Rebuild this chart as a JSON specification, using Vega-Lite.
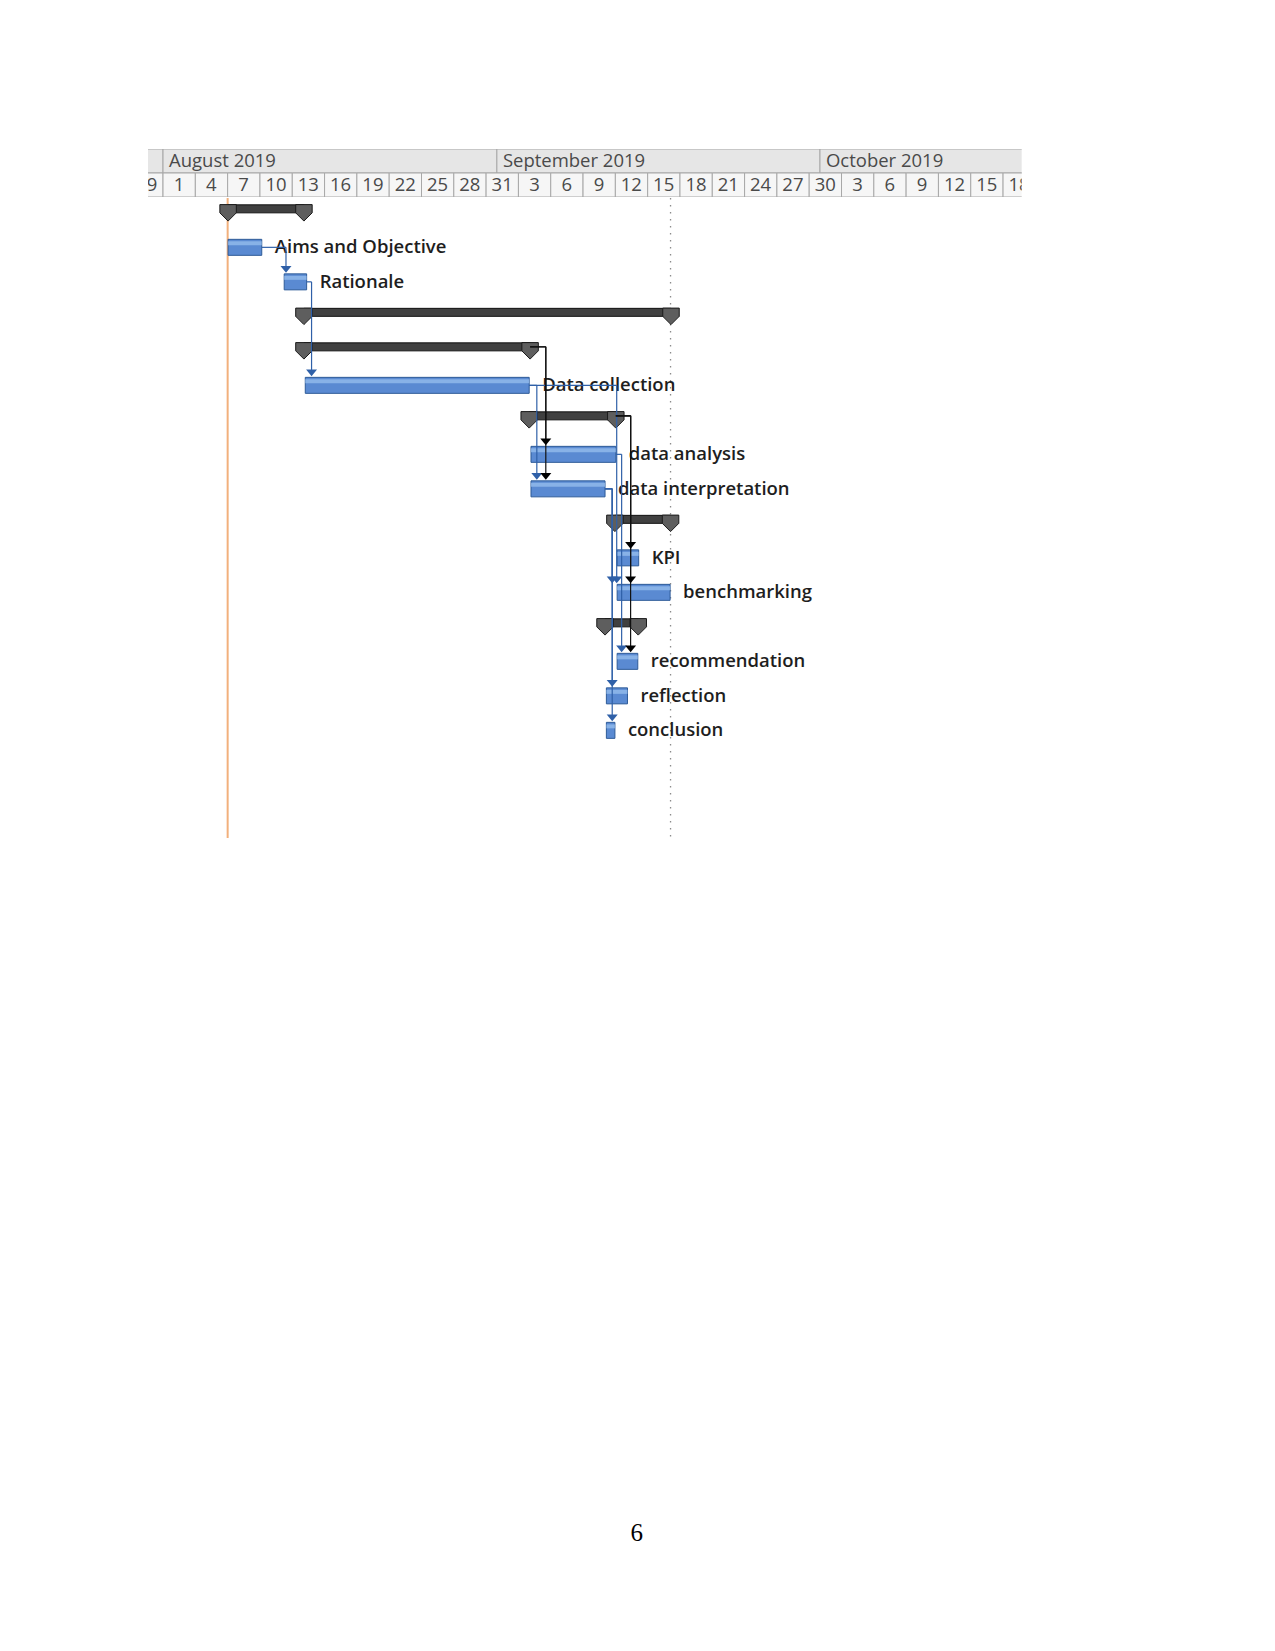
{
  "$schema": "https://vega.github.io/schema/vega-lite/v6.json",
  "background": "white",
  "padding": {"left": 148, "top": 149, "right": 0, "bottom": 0},
  "spacing": 0,
  "config": {"view": {"stroke": null}},
  "title": {"text": "6", "orient": "bottom", "anchor": "middle", "offset": 702, "dx": 52, "baseline": "alphabetic", "font": "Liberation Serif", "fontSize": 25, "fontWeight": "normal", "color": "#000000"},
  "datasets": {
    "months": [
      {"month": "July 2019", "start": "2019-07-01", "end": "2019-08-01"},
      {"month": "August 2019", "start": "2019-08-01", "end": "2019-09-01"},
      {"month": "September 2019", "start": "2019-09-01", "end": "2019-10-01"},
      {"month": "October 2019", "start": "2019-10-01", "end": "2019-11-01"}
    ],
    "days": [
      {"day": "29", "start": "2019-07-29", "end": "2019-08-01"},
      {"day": "1", "start": "2019-08-01", "end": "2019-08-04"},
      {"day": "4", "start": "2019-08-04", "end": "2019-08-07"},
      {"day": "7", "start": "2019-08-07", "end": "2019-08-10"},
      {"day": "10", "start": "2019-08-10", "end": "2019-08-13"},
      {"day": "13", "start": "2019-08-13", "end": "2019-08-16"},
      {"day": "16", "start": "2019-08-16", "end": "2019-08-19"},
      {"day": "19", "start": "2019-08-19", "end": "2019-08-22"},
      {"day": "22", "start": "2019-08-22", "end": "2019-08-25"},
      {"day": "25", "start": "2019-08-25", "end": "2019-08-28"},
      {"day": "28", "start": "2019-08-28", "end": "2019-08-31"},
      {"day": "31", "start": "2019-08-31", "end": "2019-09-03"},
      {"day": "3", "start": "2019-09-03", "end": "2019-09-06"},
      {"day": "6", "start": "2019-09-06", "end": "2019-09-09"},
      {"day": "9", "start": "2019-09-09", "end": "2019-09-12"},
      {"day": "12", "start": "2019-09-12", "end": "2019-09-15"},
      {"day": "15", "start": "2019-09-15", "end": "2019-09-18"},
      {"day": "18", "start": "2019-09-18", "end": "2019-09-21"},
      {"day": "21", "start": "2019-09-21", "end": "2019-09-24"},
      {"day": "24", "start": "2019-09-24", "end": "2019-09-27"},
      {"day": "27", "start": "2019-09-27", "end": "2019-09-30"},
      {"day": "30", "start": "2019-09-30", "end": "2019-10-03"},
      {"day": "3", "start": "2019-10-03", "end": "2019-10-06"},
      {"day": "6", "start": "2019-10-06", "end": "2019-10-09"},
      {"day": "9", "start": "2019-10-09", "end": "2019-10-12"},
      {"day": "12", "start": "2019-10-12", "end": "2019-10-15"},
      {"day": "15", "start": "2019-10-15", "end": "2019-10-18"},
      {"day": "18", "start": "2019-10-18", "end": "2019-10-21"}
    ],
    "tasks": [
      {"task": "Aims and Objective", "row": 1, "start": "2019-08-07T01:00:00Z", "end": "2019-08-10T04:00:00Z"},
      {"task": "Rationale", "row": 2, "start": "2019-08-12T06:00:00Z", "end": "2019-08-14T08:00:00Z"},
      {"task": "Data collection", "row": 5, "start": "2019-08-14T05:00:00Z", "end": "2019-09-04T00:00:00Z"},
      {"task": "data analysis", "row": 7, "start": "2019-09-04T04:00:00Z", "end": "2019-09-12T01:00:00Z"},
      {"task": "data interpretation", "row": 8, "start": "2019-09-04T04:00:00Z", "end": "2019-09-11T01:00:00Z"},
      {"task": "KPI", "row": 10, "start": "2019-09-12T04:00:00Z", "end": "2019-09-14T04:00:00Z"},
      {"task": "benchmarking", "row": 11, "start": "2019-09-12T04:00:00Z", "end": "2019-09-17T02:00:00Z"},
      {"task": "recommendation", "row": 13, "start": "2019-09-12T04:00:00Z", "end": "2019-09-14T02:00:00Z"},
      {"task": "reflection", "row": 14, "start": "2019-09-11T04:00:00Z", "end": "2019-09-13T03:00:00Z"},
      {"task": "conclusion", "row": 15, "start": "2019-09-11T04:00:00Z", "end": "2019-09-11T23:00:00Z"}
    ],
    "summaries": [
      {"row": 0, "start": "2019-08-07T01:00:00Z", "end": "2019-08-14T02:00:00Z"},
      {"row": 3, "start": "2019-08-14T02:00:00Z", "end": "2019-09-17T04:00:00Z"},
      {"row": 4, "start": "2019-08-14T02:00:00Z", "end": "2019-09-04T02:00:00Z"},
      {"row": 6, "start": "2019-09-04T00:00:00Z", "end": "2019-09-12T01:00:00Z"},
      {"row": 9, "start": "2019-09-11T23:00:00Z", "end": "2019-09-17T03:00:00Z"},
      {"row": 12, "start": "2019-09-11T01:00:00Z", "end": "2019-09-14T03:00:00Z"}
    ],
    "taskLinks": [
      {"from_row": 1, "from_end": "2019-08-10T04:00:00Z", "drop": "2019-08-12T10:00:00Z", "to_row": 2},
      {"from_row": 2, "from_end": "2019-08-14T08:00:00Z", "drop": "2019-08-14T19:00:00Z", "to_row": 5},
      {"from_row": 5, "from_end": "2019-09-04T00:00:00Z", "drop": "2019-09-04T17:00:00Z", "to_row": 8},
      {"from_row": 5, "from_end": "2019-09-04T00:00:00Z", "drop": "2019-09-12T03:00:00Z", "to_row": 11},
      {"from_row": 8, "from_end": "2019-09-11T01:00:00Z", "drop": "2019-09-11T17:00:00Z", "to_row": 11},
      {"from_row": 8, "from_end": "2019-09-11T01:00:00Z", "drop": "2019-09-11T17:00:00Z", "to_row": 14},
      {"from_row": 8, "from_end": "2019-09-11T01:00:00Z", "drop": "2019-09-11T17:00:00Z", "to_row": 15},
      {"from_row": 7, "from_end": "2019-09-12T01:00:00Z", "drop": "2019-09-12T14:00:00Z", "to_row": 13}
    ],
    "summaryLinks": [
      {"from_row": 4, "from_end": "2019-09-04T02:00:00Z", "drop": "2019-09-05T13:00:00Z", "to_row": 7},
      {"from_row": 4, "from_end": "2019-09-04T02:00:00Z", "drop": "2019-09-05T13:00:00Z", "to_row": 8},
      {"from_row": 6, "from_end": "2019-09-12T01:00:00Z", "drop": "2019-09-13T10:00:00Z", "to_row": 10},
      {"from_row": 6, "from_end": "2019-09-12T01:00:00Z", "drop": "2019-09-13T10:00:00Z", "to_row": 11},
      {"from_row": 6, "from_end": "2019-09-12T01:00:00Z", "drop": "2019-09-13T10:00:00Z", "to_row": 13}
    ],
    "markers": [
      {"marker": "current date", "date": "2019-08-07T00:00:00Z"},
      {"marker": "status date", "date": "2019-09-17T03:00:00Z"}
    ]
  },
  "vconcat": [
    {
      "width": 873.7,
      "height": 48,
      "layer": [
        {
          "data": {"name": "months"},
          "mark": {"type": "rect", "fill": "#e6e6e6", "stroke": "#a8a8a8", "strokeWidth": 1, "clip": true},
          "encoding": {
            "x": {"field": "start", "type": "temporal", "axis": null, "scale": {"type": "utc", "domain": [{"year": 2019, "month": 7, "date": 30, "hours": 14, "minutes": 30, "utc": true}, {"year": 2019, "month": 10, "date": 19, "hours": 17, "minutes": 30, "utc": true}]}},
            "x2": {"field": "end"},
            "y": {"datum": "month", "type": "nominal", "axis": null, "scale": {"domain": ["month", "day"], "paddingInner": 0, "paddingOuter": 0}}
          }
        },
        {
          "data": {"name": "days"},
          "mark": {"type": "rect", "fill": "#f6f6f6", "stroke": "#a8a8a8", "strokeWidth": 1, "clip": true},
          "encoding": {
            "x": {"field": "start", "type": "temporal"},
            "x2": {"field": "end"},
            "y": {"datum": "day", "type": "nominal"}
          }
        },
        {
          "data": {"name": "months"},
          "transform": [{"filter": "datum.month != 'July 2019'"}],
          "mark": {"type": "text", "align": "left", "baseline": "middle", "dx": 6, "font": "Open Sans", "fontSize": 18.5, "fill": "#4a4a4a", "clip": true},
          "encoding": {
            "x": {"field": "start", "type": "temporal"},
            "y": {"datum": "month", "type": "nominal"},
            "text": {"field": "month"}
          }
        },
        {
          "data": {"name": "days"},
          "mark": {"type": "text", "align": "center", "baseline": "middle", "dx": 16, "font": "Open Sans", "fontSize": 18.5, "fill": "#4a4a4a", "clip": true},
          "encoding": {
            "x": {"field": "start", "type": "temporal"},
            "y": {"datum": "day", "type": "nominal"},
            "text": {"field": "day"}
          }
        }
      ]
    },
    {
      "width": 873.7,
      "height": 640,
      "layer": [
        {
          "data": {"name": "markers"},
          "transform": [{"filter": "datum.marker == 'current date'"}],
          "mark": {"type": "rule", "color": "#f2b07c", "strokeWidth": 2},
          "encoding": {"x": {"field": "date", "type": "temporal", "axis": null, "scale": {"type": "utc", "domain": [{"year": 2019, "month": 7, "date": 30, "hours": 14, "minutes": 30, "utc": true}, {"year": 2019, "month": 10, "date": 19, "hours": 17, "minutes": 30, "utc": true}]}}}
        },
        {
          "data": {"name": "markers"},
          "transform": [{"filter": "datum.marker == 'status date'"}],
          "mark": {"type": "rule", "color": "#8c8c8c", "strokeWidth": 1.3, "strokeDash": [1.5, 5.5]},
          "encoding": {"x": {"field": "date", "type": "temporal"}}
        },
        {
          "data": {"name": "summaries"},
          "mark": {"type": "bar", "orient": "horizontal", "size": 8, "yOffset": -4, "fill": "#404040", "stroke": "#111111", "strokeWidth": 1},
          "encoding": {
            "x": {"field": "start", "type": "temporal"},
            "x2": {"field": "end"},
            "y": {"field": "row", "type": "quantitative", "axis": null, "scale": {"domain": [-0.43, 18.12], "reverse": true, "nice": false, "zero": false, "padding": 0}}
          }
        },
        {
          "data": {"name": "summaries"},
          "mark": {"type": "point", "shape": "M-1,-1L1,-1L1,0L0,1L-1,0Z", "size": 272, "filled": true, "fill": "#5e5e5e", "stroke": "#1a1a1a", "strokeWidth": 1, "opacity": 1},
          "encoding": {
            "x": {"field": "start", "type": "temporal"},
            "y": {"field": "row", "type": "quantitative"}
          }
        },
        {
          "data": {"name": "summaries"},
          "mark": {"type": "point", "shape": "M-1,-1L1,-1L1,0L0,1L-1,0Z", "size": 272, "filled": true, "fill": "#5e5e5e", "stroke": "#1a1a1a", "strokeWidth": 1, "opacity": 1},
          "encoding": {
            "x": {"field": "end", "type": "temporal"},
            "y": {"field": "row", "type": "quantitative"}
          }
        },
        {
          "data": {"name": "tasks"},
          "mark": {"type": "bar", "orient": "horizontal", "size": 16, "fill": "#5a8ad2", "stroke": "#2d5a98", "strokeWidth": 1},
          "encoding": {
            "x": {"field": "start", "type": "temporal"},
            "x2": {"field": "end"},
            "y": {"field": "row", "type": "quantitative"}
          }
        },
        {
          "data": {"name": "tasks"},
          "mark": {"type": "bar", "orient": "horizontal", "size": 4, "yOffset": -4, "fill": "#93bbec", "opacity": 0.8},
          "encoding": {
            "x": {"field": "start", "type": "temporal"},
            "x2": {"field": "end"},
            "y": {"field": "row", "type": "quantitative"}
          }
        },
        {
          "data": {"name": "tasks"},
          "mark": {"type": "text", "align": "left", "baseline": "middle", "dx": 13, "font": "Open Sans", "fontWeight": 600, "fontSize": 18.5, "fill": "#1e1e1e"},
          "encoding": {
            "x": {"field": "end", "type": "temporal"},
            "y": {"field": "row", "type": "quantitative"},
            "text": {"field": "task"}
          }
        },
        {
          "data": {"name": "taskLinks"},
          "mark": {"type": "rule", "color": "#2f60a8", "strokeWidth": 1.2},
          "encoding": {
            "x": {"field": "from_end", "type": "temporal"},
            "x2": {"field": "drop"},
            "y": {"field": "from_row", "type": "quantitative"}
          }
        },
        {
          "data": {"name": "taskLinks"},
          "mark": {"type": "rule", "color": "#2f60a8", "strokeWidth": 1.2, "y2Offset": -12},
          "encoding": {
            "x": {"field": "drop", "type": "temporal"},
            "y": {"field": "from_row", "type": "quantitative"},
            "y2": {"field": "to_row"}
          }
        },
        {
          "data": {"name": "summaryLinks"},
          "mark": {"type": "rule", "color": "#111111", "strokeWidth": 1.2, "yOffset": -4},
          "encoding": {
            "x": {"field": "from_end", "type": "temporal"},
            "x2": {"field": "drop"},
            "y": {"field": "from_row", "type": "quantitative"}
          }
        },
        {
          "data": {"name": "summaryLinks"},
          "mark": {"type": "rule", "color": "#111111", "strokeWidth": 1.2, "yOffset": -4, "y2Offset": -12},
          "encoding": {
            "x": {"field": "drop", "type": "temporal"},
            "y": {"field": "from_row", "type": "quantitative"},
            "y2": {"field": "to_row"}
          }
        },
        {
          "data": {"name": "taskLinks"},
          "mark": {"type": "point", "shape": "M-1,-0.6L1,-0.6L0,0.6Z", "size": 121, "filled": true, "fill": "#2f60a8", "strokeWidth": 0, "opacity": 1, "yOffset": -12.5},
          "encoding": {
            "x": {"field": "drop", "type": "temporal"},
            "y": {"field": "to_row", "type": "quantitative"}
          }
        },
        {
          "data": {"name": "summaryLinks"},
          "mark": {"type": "point", "shape": "M-1,-0.6L1,-0.6L0,0.6Z", "size": 121, "filled": true, "fill": "#000000", "strokeWidth": 0, "opacity": 1, "yOffset": -12.5},
          "encoding": {
            "x": {"field": "drop", "type": "temporal"},
            "y": {"field": "to_row", "type": "quantitative"}
          }
        }
      ]
    }
  ]
}
